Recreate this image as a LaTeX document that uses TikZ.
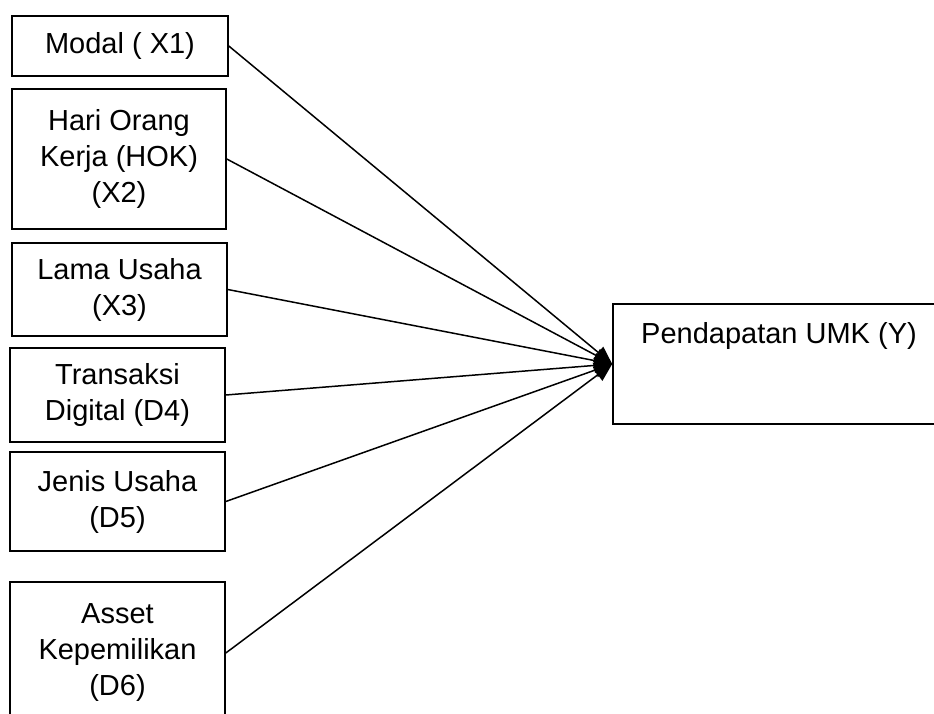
\documentclass[tikz,border=0pt]{standalone}
\usepackage{fontspec}
\setmainfont{Liberation Sans}
\usetikzlibrary{arrows.meta}
\begin{document}
\begin{tikzpicture}[x=1pt,y=-1pt,
  box/.style={draw,line width=1.6pt,rectangle,inner sep=0pt,align=center,font=\fontsize{29}{36}\selectfont},
  txt/.style={inner sep=0pt,font=\fontsize{29}{36}\selectfont},
  conn/.style={line width=1.5pt,-{Triangle[length=18pt,width=15pt]}}]
\useasboundingbox (0,0) rectangle (934,713);
\clip (0,0) rectangle (934,713);
\node[box,minimum width=216pt,minimum height=60pt] (b1) at (120,46) {Modal ( X1)};
\node[box,minimum width=214pt,minimum height=140pt] (b2) at (119,159) {Hari Orang\\Kerja (HOK)\\(X2)};
\node[box,minimum width=215pt,minimum height=93pt] (b3) at (119.5,289.5) {Lama Usaha\\(X3)};
\node[box,minimum width=215pt,minimum height=94pt] (b4) at (117.5,395) {Transaksi\\Digital (D4)};
\node[box,minimum width=215pt,minimum height=99pt] (b5) at (117.5,501.5) {Jenis Usaha\\(D5)};
\node[box,minimum width=215pt,minimum height=142pt] (b6) at (117.5,653) {Asset\\Kepemilikan\\(D6)};
\node[box,minimum width=332pt,minimum height=120pt] (y) at (779,364) {};
\node[txt,anchor=base] (yt) at (779,343) {Pendapatan UMK (Y)};
\foreach \b in {b1,b2,b3,b4,b5,b6}
  \draw[conn] (\b.east) -- (y.west);
\end{tikzpicture}
\end{document}
